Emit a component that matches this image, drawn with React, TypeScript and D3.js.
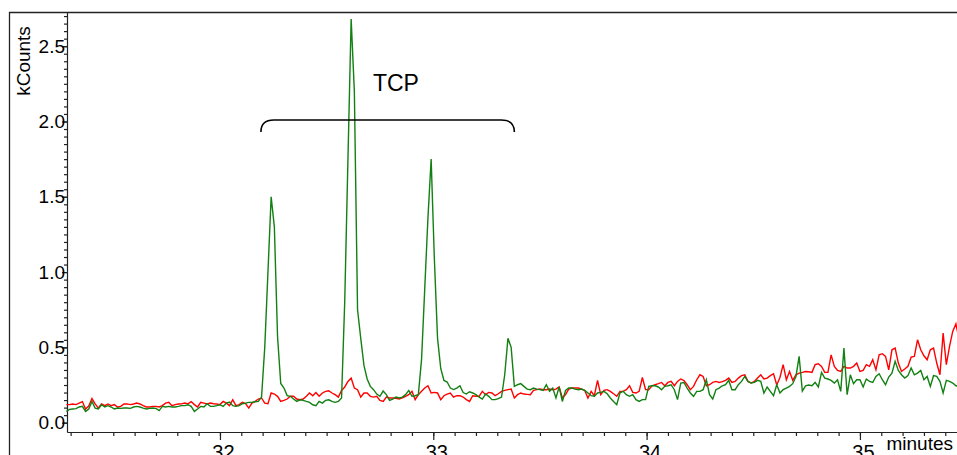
import React, { useRef, useEffect } from "react";
import * as d3 from "d3";

// scan timing (minutes)
const startTime = 31.28;
const scanInterval = 0.015;

// kCounts, one value per scan
const redTrace = [
  0.12, 0.12, 0.124, 0.12, 0.13, 0.14, 0.09, 0.11, 0.16, 0.125,
  0.097, 0.124, 0.113, 0.124, 0.113, 0.12, 0.104, 0.108, 0.124, 0.125,
  0.12, 0.124, 0.13, 0.124, 0.113, 0.104, 0.104, 0.108, 0.108, 0.104,
  0.113, 0.13, 0.135, 0.113, 0.12, 0.124, 0.125, 0.13, 0.125, 0.14,
  0.12, 0.104, 0.135, 0.13, 0.125, 0.13, 0.126, 0.124, 0.12, 0.141,
  0.13, 0.113, 0.152, 0.113, 0.12, 0.135, 0.126, 0.097, 0.13, 0.141,
  0.157, 0.164, 0.13, 0.126, 0.197, 0.19, 0.175, 0.141, 0.148, 0.157,
  0.175, 0.175, 0.157, 0.152, 0.157, 0.175, 0.197, 0.179, 0.2, 0.175,
  0.197, 0.208, 0.212, 0.197, 0.186, 0.17, 0.214, 0.237, 0.274, 0.296,
  0.23, 0.219, 0.17, 0.197, 0.197, 0.175, 0.17, 0.175, 0.148, 0.141,
  0.17, 0.164, 0.164, 0.161, 0.157, 0.164, 0.175, 0.186, 0.208, 0.153,
  0.186, 0.208, 0.23, 0.245, 0.197, 0.201, 0.197, 0.153, 0.179, 0.19,
  0.197, 0.17, 0.179, 0.179, 0.17, 0.153, 0.141, 0.179, 0.175, 0.175,
  0.208, 0.186, 0.201, 0.197, 0.179, 0.192, 0.208, 0.214, 0.219, 0.223,
  0.164, 0.186, 0.197, 0.19, 0.188, 0.186, 0.214, 0.219, 0.223, 0.219,
  0.219, 0.223, 0.219, 0.223, 0.237, 0.164, 0.186, 0.223, 0.23, 0.23,
  0.23, 0.223, 0.214, 0.164, 0.208, 0.179, 0.281, 0.186, 0.214, 0.219,
  0.208, 0.192, 0.175, 0.208, 0.208, 0.219, 0.245, 0.201, 0.197, 0.208,
  0.3, 0.22, 0.219, 0.245, 0.252, 0.259, 0.267, 0.245, 0.267, 0.274,
  0.245, 0.274, 0.29, 0.279, 0.252, 0.219, 0.241, 0.285, 0.318, 0.307,
  0.245, 0.252, 0.267, 0.274, 0.267, 0.272, 0.281, 0.296, 0.267, 0.274,
  0.296, 0.312, 0.318, 0.274, 0.263, 0.274, 0.296, 0.318, 0.29, 0.296,
  0.312, 0.325, 0.25, 0.3, 0.385, 0.285, 0.34, 0.281, 0.318, 0.329,
  0.334, 0.34, 0.338, 0.334, 0.385, 0.391, 0.374, 0.334, 0.334, 0.45,
  0.374, 0.347, 0.34, 0.374, 0.363, 0.363, 0.374, 0.396, 0.34, 0.347,
  0.385, 0.374, 0.418, 0.351, 0.451, 0.458, 0.44, 0.351, 0.484, 0.495,
  0.396, 0.34, 0.356, 0.374, 0.435, 0.44, 0.55, 0.484, 0.444, 0.418,
  0.484, 0.495, 0.396, 0.318, 0.595, 0.385, 0.506, 0.606, 0.656, 0.55,
];

const greenTrace = [
  0.075, 0.088, 0.091, 0.093, 0.104, 0.108, 0.075, 0.091, 0.141, 0.097,
  0.091, 0.119, 0.104, 0.113, 0.104, 0.091, 0.097, 0.095, 0.097, 0.097,
  0.095, 0.104, 0.108, 0.104, 0.097, 0.091, 0.095, 0.097, 0.095, 0.08,
  0.108, 0.104, 0.108, 0.104, 0.104, 0.108, 0.113, 0.113, 0.119, 0.108,
  0.075, 0.091, 0.108, 0.104, 0.126, 0.108, 0.108, 0.113, 0.119, 0.108,
  0.13, 0.137, 0.113, 0.108, 0.113, 0.126, 0.13, 0.135, 0.135, 0.139,
  0.141, 0.17, 0.5, 1.0, 1.5, 1.3, 0.57, 0.26, 0.23, 0.18,
  0.175, 0.157, 0.141, 0.152, 0.148, 0.141, 0.135, 0.119, 0.113, 0.141,
  0.13, 0.148, 0.152, 0.141, 0.135, 0.141, 0.164, 0.81, 1.75, 2.68,
  2.2, 0.75, 0.56, 0.38, 0.29, 0.241, 0.219, 0.19, 0.175, 0.21,
  0.186, 0.148, 0.157, 0.17, 0.164, 0.17, 0.186, 0.214, 0.175, 0.179,
  0.186, 0.42, 0.89, 1.36, 1.75, 1.09, 0.56, 0.36, 0.28, 0.27,
  0.23, 0.22, 0.23, 0.245, 0.2, 0.19, 0.205, 0.197, 0.186, 0.17,
  0.157, 0.19, 0.175, 0.153, 0.153, 0.16, 0.17, 0.32, 0.56, 0.5,
  0.241, 0.252, 0.259, 0.241, 0.223, 0.219, 0.23, 0.223, 0.219, 0.214,
  0.252, 0.208, 0.23, 0.164, 0.237, 0.141, 0.214, 0.23, 0.23, 0.223,
  0.219, 0.223, 0.214, 0.197, 0.179, 0.175, 0.197, 0.201, 0.208, 0.192,
  0.164, 0.141, 0.119, 0.197, 0.208, 0.186, 0.175, 0.186, 0.153, 0.141,
  0.153, 0.153, 0.241, 0.245, 0.245, 0.237, 0.219, 0.241, 0.245, 0.252,
  0.219, 0.153, 0.263, 0.267, 0.23, 0.197, 0.175, 0.208, 0.208, 0.219,
  0.285, 0.186, 0.157, 0.219, 0.23, 0.245, 0.252, 0.281, 0.219, 0.219,
  0.252, 0.274, 0.307, 0.274, 0.263, 0.267, 0.281, 0.274, 0.197, 0.237,
  0.208, 0.179, 0.252, 0.197, 0.219, 0.23, 0.241, 0.259, 0.307, 0.44,
  0.21, 0.245, 0.25, 0.245, 0.267, 0.237, 0.334, 0.296, 0.29, 0.281,
  0.263, 0.285, 0.208, 0.495, 0.186, 0.318, 0.259, 0.285, 0.285, 0.237,
  0.29, 0.274, 0.267, 0.307, 0.325, 0.285, 0.252, 0.303, 0.329, 0.407,
  0.347, 0.318, 0.296, 0.312, 0.363, 0.318, 0.329, 0.347, 0.285, 0.307,
  0.241, 0.312, 0.307, 0.274, 0.197, 0.281, 0.274, 0.263, 0.245, 0.24,
];

const yMajorTicks = [0, 0.5, 1.0, 1.5, 2.0, 2.5];
const xMajorTicks = [32, 33, 34, 35];
const yLabel = "kCounts";
const xLabel = "minutes";

// bracket annotation
const tcpLabel = "TCP";
const tcpStart = 32.192;
const tcpEnd = 33.38;
const tcpLevel = 2.01;
const tcpLabelTime = 32.825;
const tcpLabelLevel = 2.2;

const font = "'Liberation Sans', Arial, sans-serif";

const App = () => {
  const svgRef = useRef<SVGSVGElement>(null);

  useEffect(() => {
    const width = 957;
    const height = 455;
    const left = 67;
    const top = 12;
    const bottom = 432;

    const svg = d3.select(svgRef.current);
    svg.selectAll("*").remove();

    const x = d3.scaleLinear().domain([31.283, 35.455]).range([left, width]);
    const y = d3.scaleLinear().domain([-0.062, 2.727]).range([bottom, top]);

    // outer frame
    svg
      .append("path")
      .attr("d", `M9.5,${height} V${top + 0.5} H${width}`)
      .attr("fill", "none")
      .attr("stroke", "#222")
      .attr("stroke-width", 1.3);

    // y axis: minor ticks every 0.05
    const yMinor = d3.range(0, 2.7001, 0.05);
    svg
      .append("g")
      .attr("transform", `translate(${left},0)`)
      .call(
        d3.axisLeft(y).tickValues(yMinor).tickSize(3).tickSizeOuter(0).tickFormat(() => "")
      )
      .call((g) => g.selectAll("path, line").attr("stroke", "#222").attr("stroke-width", 1.2));

    svg
      .append("g")
      .attr("transform", `translate(${left},0)`)
      .call(d3.axisLeft(y).tickValues(yMajorTicks).tickSize(5).tickFormat(d3.format(".1f")))
      .call((g) => g.select(".domain").remove())
      .call((g) => g.selectAll("line").attr("stroke", "#222").attr("stroke-width", 1.2))
      .call((g) =>
        g
          .selectAll("text")
          .attr("x", -2)
          .attr("fill", "#000")
          .style("font-family", font)
          .style("font-size", "19px")
      );

    // x axis: minor ticks every 0.1 min
    const xMinor = d3.range(31.3, 35.45, 0.1);
    svg
      .append("g")
      .attr("transform", `translate(0,${bottom})`)
      .call(
        d3.axisBottom(x).tickValues(xMinor).tickSize(4).tickSizeOuter(0).tickFormat(() => "")
      )
      .call((g) => g.selectAll("path, line").attr("stroke", "#222").attr("stroke-width", 1.2));

    svg
      .append("g")
      .attr("transform", `translate(0,${bottom})`)
      .call(d3.axisBottom(x).tickValues(xMajorTicks).tickSize(8).tickPadding(5).tickFormat(d3.format("d")))
      .call((g) => g.select(".domain").remove())
      .call((g) => g.selectAll("line").attr("stroke", "#222").attr("stroke-width", 1.2))
      .call((g) =>
        g
          .selectAll("text")
          .attr("x", 3)
          .attr("fill", "#000")
          .style("font-family", font)
          .style("font-size", "20px")
      );

    // axis titles
    svg
      .append("text")
      .attr("transform", `translate(30,61) rotate(-90)`)
      .attr("text-anchor", "middle")
      .style("font-family", font)
      .style("font-size", "19px")
      .text(yLabel);

    svg
      .append("text")
      .attr("x", 953)
      .attr("y", 450)
      .attr("text-anchor", "end")
      .style("font-family", font)
      .style("font-size", "19px")
      .text(xLabel);

    // traces
    const line = d3
      .line<number>()
      .x((_, i) => x(startTime + i * scanInterval))
      .y((d) => y(d));

    svg
      .append("path")
      .datum(redTrace)
      .attr("d", line)
      .attr("fill", "none")
      .attr("stroke", "#ff0000")
      .attr("stroke-width", 1.4);

    svg
      .append("path")
      .datum(greenTrace)
      .attr("d", line)
      .attr("fill", "none")
      .attr("stroke", "#128012")
      .attr("stroke-width", 1.4);

    // TCP bracket
    const bx0 = x(tcpStart);
    const bx1 = x(tcpEnd);
    const by = y(tcpLevel);
    const r = 12;
    svg
      .append("path")
      .attr(
        "d",
        `M${bx0},${by + r} C${bx0},${by + 4} ${bx0 + 4},${by} ${bx0 + r + 1},${by} ` +
          `H${bx1 - r - 1} C${bx1 - 4},${by} ${bx1},${by + 4} ${bx1},${by + r}`
      )
      .attr("fill", "none")
      .attr("stroke", "#000")
      .attr("stroke-width", 1.6);

    svg
      .append("text")
      .attr("x", x(tcpLabelTime))
      .attr("y", y(tcpLabelLevel))
      .attr("text-anchor", "middle")
      .style("font-family", font)
      .style("font-size", "23px")
      .text(tcpLabel);
  }, []);

  return (
    <svg
      ref={svgRef}
      width={957}
      height={455}
      style={{ position: "absolute", left: 0, top: 0, background: "#fff" }}
    ></svg>
  );
};

export default App;
